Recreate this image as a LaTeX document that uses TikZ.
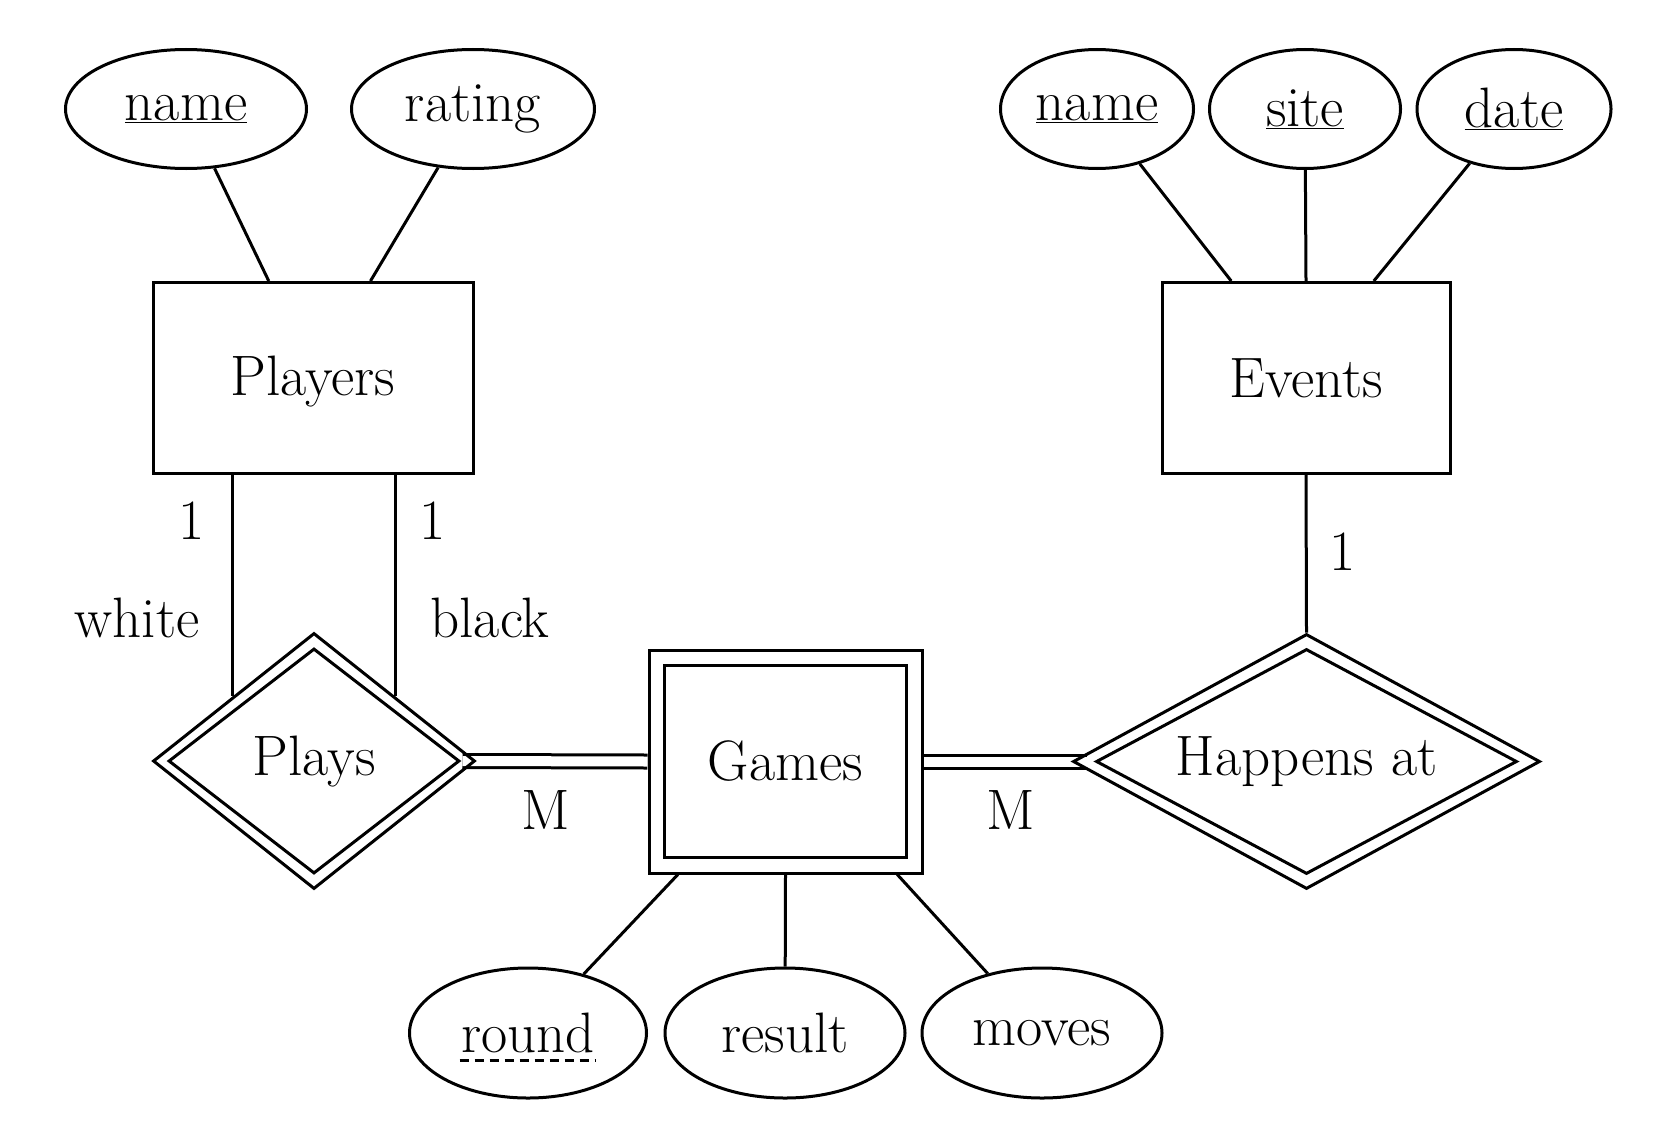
\documentclass[tikz,border=0pt]{standalone}
\usetikzlibrary{shapes.geometric,calc,backgrounds}
\begin{document}
\begin{tikzpicture}[x=1pt,y=-1pt, line width=3pt,
  every node/.style={font=\fontsize{57}{62}\selectfont},
  attr/.style={ellipse, draw, inner sep=0pt},
  entity/.style={rectangle, draw, inner sep=0pt},
  rel/.style={diamond, draw, inner sep=0pt},
  lbl/.style={inner sep=0pt},
  dbl/.style={draw=black, line width=3pt, double=white, double distance=10pt}]
\useasboundingbox (0,0) rectangle (1656,1140);

% entities
\node[entity, minimum width=320pt, minimum height=191pt] (players) at (313,378) {};
\node[lbl] (playerstxt) at ([yshift=-4pt]players.center) {Players};
\node[entity, minimum width=288pt, minimum height=191pt] (events) at (1306,378) {Events};
\node[entity, minimum width=273pt, minimum height=223pt] (games) at (785.5,761.5) {};
\node[entity, minimum width=242pt, minimum height=192pt] (gamesin) at (games) {Games};

% relationships
\node[rel, minimum width=322pt, minimum height=256pt] (plays) at (314,761) {};
\node[rel, minimum width=291pt, minimum height=225pt, aspect=1.29] (playsin) at (plays) {Plays};
\node[rel, minimum width=467pt, minimum height=255pt] (happens) at (1306.5,761.5) {};
\node[rel, minimum width=421pt, minimum height=225pt, aspect=1.87] (happensin) at (happens) {Happens at};

% attributes
\node[attr, minimum width=241pt, minimum height=119pt] (pname) at (186,109) {\underline{name}};
\node[attr, minimum width=243pt, minimum height=119pt] (prating) at (473,109) {rating};
\node[attr, minimum width=193pt, minimum height=119pt] (ename) at (1097,109) {\underline{name}};
\node[attr, minimum width=191pt, minimum height=119pt] (esite) at (1305,109) {\underline{site}};
\node[attr, minimum width=194pt, minimum height=119pt] (edate) at (1514,109) {\underline{date}};
\node[attr, minimum width=237pt, minimum height=130pt] (round) at (528,1033) {};
\node[lbl] (roundtxt) at (round) {round};
\node[attr, minimum width=240pt, minimum height=130pt] (result) at (785,1033) {result};
\node[attr, minimum width=240pt, minimum height=130pt] (moves) at (1042,1033) {moves};

\draw[dash pattern=on 9pt off 6pt] ([yshift=-8pt]roundtxt.base west) -- ([yshift=-8pt]roundtxt.base east);

% attribute connectors
\coordinate (pa1) at ($(players.north west)!0.363!(players.north east)$);
\coordinate (pa2) at ($(players.north west)!0.678!(players.north east)$);
\coordinate (ea1) at ($(events.north west)!0.243!(events.north east)$);
\coordinate (ea3) at ($(events.north west)!0.733!(events.north east)$);
\coordinate (ga1) at ($(games.south west)!0.11!(games.south east)$);
\coordinate (ga3) at ($(games.south west)!0.905!(games.south east)$);
\draw (pname) -- (pa1);
\draw (prating) -- (pa2);
\draw (ename) -- (ea1);
\draw (esite) -- (events.north);
\draw (edate) -- (ea3);
\draw (round) -- (ga1);
\draw (result) -- (games.south);
\draw (moves) -- (ga3);

% relationship connectors
\draw (plays.north west |- players.south) -- (plays.north west);
\draw (plays.north east |- players.south) -- (plays.north east);
\draw (events.south) -- (happens.north);
\coordinate (pe) at ([xshift=-14pt]plays.east);
\coordinate (hw) at ([xshift=15pt]happens.west);
\begin{pgfonlayer}{background}
\draw[dbl] (pe) -- (games.west);
\draw[dbl] (games.east) -- (hw);
\end{pgfonlayer}

% labels
\node[lbl] (l1) at (192,521) {1};
\node[lbl] (l2) at (433,521) {1};
\node[lbl] (lwhite) at (137,618) {white};
\node[lbl] (lblack) at (490,618) {black};
\node[lbl] (lm1) at (546,810) {M};
\node[lbl] (lm2) at (1011,810) {M};
\node[lbl] (l3) at (1343,552) {1};
\end{tikzpicture}
\end{document}
